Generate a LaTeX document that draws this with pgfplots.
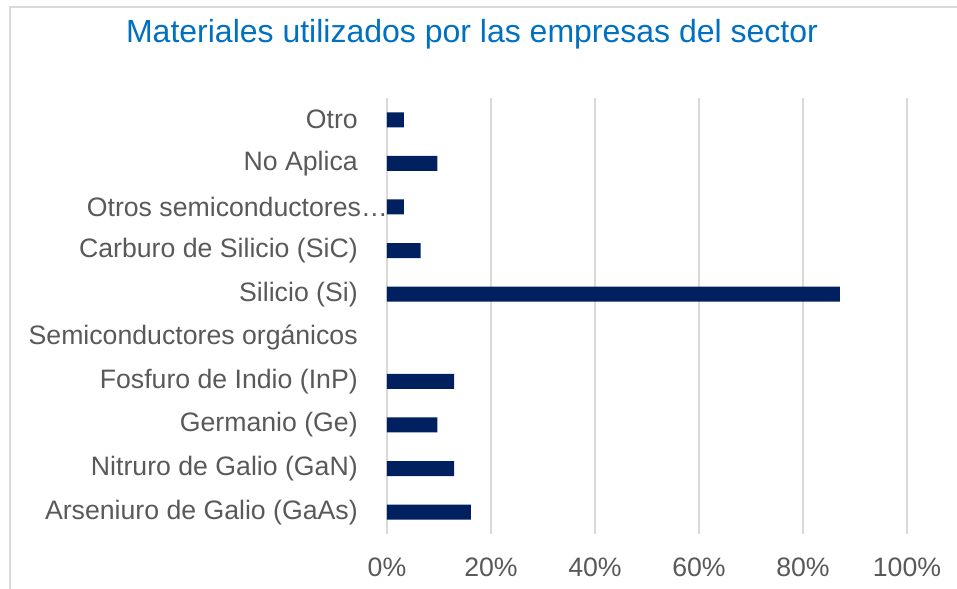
\documentclass[border=0pt]{standalone}
\usepackage{fontspec}
\setmainfont{Liberation Sans}
\usepackage{pgfplots}
\pgfplotsset{compat=1.18}
\definecolor{barnavy}{HTML}{002060}
\definecolor{titleblue}{HTML}{0070C0}
\definecolor{gridgray}{HTML}{D9D9D9}
\definecolor{labelgray}{HTML}{595959}
\begin{document}
\begin{tikzpicture}
\useasboundingbox (0,0) rectangle (717.75pt,441.75pt);
% outer chart frame (only top and left visible)
\draw[gridgray, line width=1.5pt] (7.5pt,0) -- (7.5pt,436.5pt) -- (717.75pt,436.5pt);
\node[anchor=base, font=\fontsize{24}{28}\selectfont, text=titleblue, inner sep=0pt]
  at (354pt,409.5pt) {Materiales utilizados por las empresas del sector};
\begin{axis}[
  at={(290.25pt,41.25pt)}, anchor=south west,
  scale only axis, width=390pt, height=327pt,
  xbar, bar width=11.25pt, bar shift=0pt,
  xmin=0, xmax=100, ymin=-0.5, ymax=9.5,
  axis line style={draw=none},
  xtick={0,20,40,60,80,100},
  xticklabels={0\%,20\%,40\%,60\%,80\%,100\%},
  ytick={0,...,9},
  yticklabels={Arseniuro de Galio (GaAs),Nitruro de Galio (GaN),Germanio (Ge),Fosfuro de Indio (InP),Semiconductores orgánicos,Silicio (Si),Carburo de Silicio (SiC),Otros semiconductores…\hspace*{-22.5pt},No Aplica ,Otro},
  major tick length=0pt,
  xmajorgrids, grid style={gridgray, line width=1.1pt},
  tick label style={font=\fontsize{20}{24}\selectfont, text=labelgray, inner sep=0pt},
  xticklabel style={anchor=base, yshift=-32.25pt},
  yticklabel style={anchor=east, xshift=-21.75pt},
  clip=false,
]
% Semiconductores orgánicos (y=4) is 0 and draws no bar
\addplot[fill=barnavy, draw=none] coordinates {
  (16.13,0) (12.90,1) (9.68,2) (12.90,3)
  (87.10,5) (6.45,6) (3.23,7) (9.68,8) (3.23,9)
};
\end{axis}
\end{tikzpicture}
\end{document}
